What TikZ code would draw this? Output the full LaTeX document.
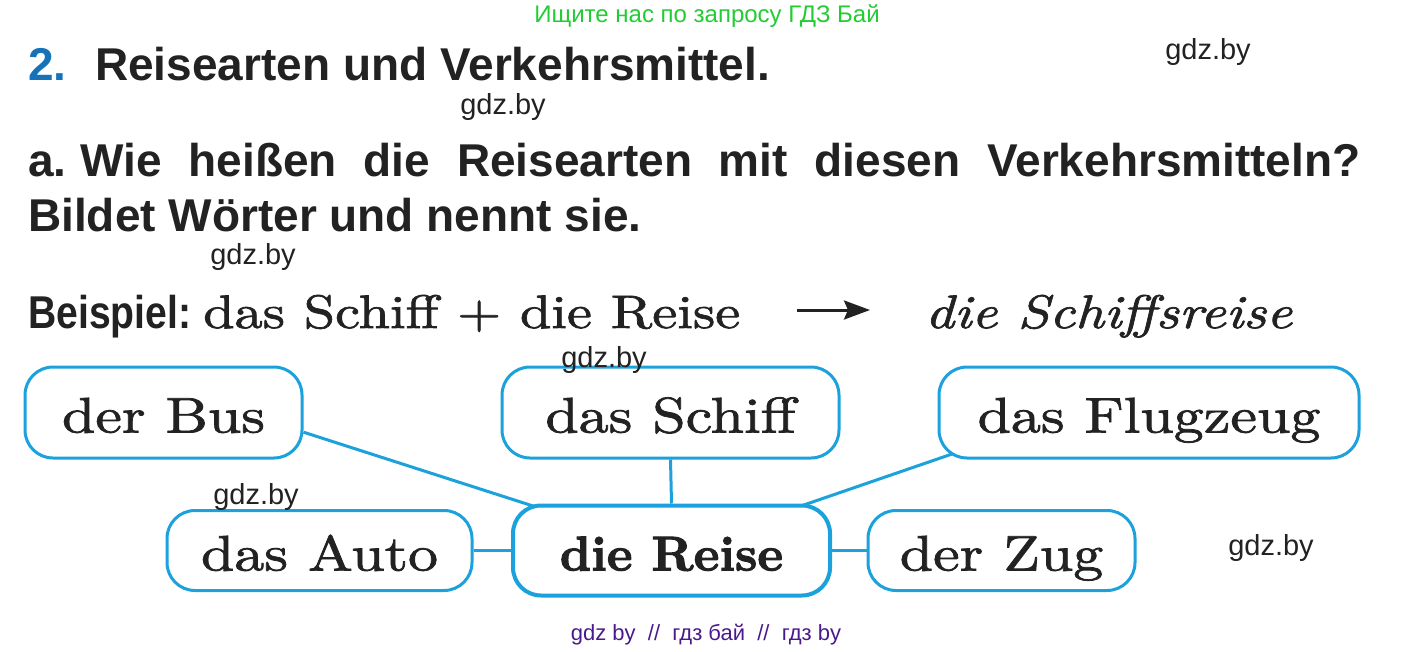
\documentclass[tikz,border=0pt]{standalone}
\usepackage{fontspec}
\usetikzlibrary{arrows.meta,calc,backgrounds}

\newfontfamily\kopffont{Liberation Sans}
\newfontfamily\schmalfont{Liberation Sans}[FakeStretch=0.85]
\newfontfamily\kastenfont{lmroman10-regular.otf}[ItalicFont=lmroman10-italic.otf, FakeStretch=1.2, FakeBold=1.5]
\newfontfamily\fettfont{lmroman10-bold.otf}[FakeBold=2]

\definecolor{kastenblau}{HTML}{1BA1DB}
\definecolor{nummerblau}{HTML}{1673B9}
\definecolor{tinte}{HTML}{222222}
\definecolor{gruen}{HTML}{22CC33}
\definecolor{lila}{HTML}{4A1A8C}

\begin{document}
\begin{tikzpicture}[x=1pt, y=-1pt,
    kasten/.style={draw=kastenblau, line width=3pt, rounded corners=28pt, fill=white,
        inner sep=0pt, text=tinte, text height=40pt, text depth=0pt,
        font=\kastenfont\fontsize{50}{50}\selectfont},
    verbindung/.style={draw=kastenblau, line width=3pt},
    kopf/.style={inner sep=0pt, anchor=base west, text=tinte,
        font=\kopffont\bfseries\fontsize{46}{46}\selectfont},
    wz/.style={inner sep=0pt, text=tinte, font=\kopffont\fontsize{29}{29}\selectfont}]
    \useasboundingbox (0,0) rectangle (1414,651);

    % --- Kopfzeile ---
    \node[inner sep=0pt, anchor=base, text=gruen, font=\kopffont\fontsize{24}{24}\selectfont]
        (hinweis) at (707,22) {Ищите нас по запросу ГДЗ Бай};
    \node[kopf, text=nummerblau] (nummer) at (28,80) {2.};
    \node[kopf] (titel) at (95,80) {Reisearten und Verkehrsmittel.};

    % --- Aufgabe a ---
    \node[kopf] (frage) at (28,176) {a.\hspace{14pt}\makebox[1280pt][s]{Wie heißen die Reisearten mit diesen Verkehrsmitteln?}};
    \node[kopf] (auftrag) at (28,231) {Bildet Wörter und nennt sie.};

    % --- Beispiel ---
    \node[kopf, font=\schmalfont\bfseries\fontsize{46}{46}\selectfont] (beispiel) at (28,328) {Beispiel:};
    \node[inner sep=0pt, anchor=base west, text=tinte, font=\kastenfont\fontsize{47}{47}\selectfont]
        (summe) at (203,328) {das Schiff + die Reise};
    \node[inner sep=0pt, anchor=base west, text=tinte, font=\kastenfont\itshape\fontsize{47}{47}\selectfont]
        (ergebnis) at (925,328) {die Schiffsreise};
    \coordinate (pfeilA) at (797,310);
    \coordinate (pfeilB) at (870,310);
    \draw[-{Stealth[length=26pt,width=19pt,inset=4pt]}, line width=3pt, tinte] (pfeilA) -- (pfeilB);

    % --- Kaesten ---
    \node[kasten, minimum width=277pt, minimum height=91pt] (bus) at (163.5,412.5) {der Bus};
    \node[kasten, minimum width=337pt, minimum height=91pt] (schiff) at (670.5,412.5) {das Schiff};
    \node[kasten, minimum width=420pt, minimum height=91pt] (flug) at (1149,412.5) {das Flugzeug};
    \node[kasten, minimum width=305pt, minimum height=80pt] (auto) at (319.5,550.5) {das Auto};
    \node[kasten, line width=4pt, minimum width=317pt, minimum height=90pt,
        font=\fettfont\fontsize{49}{49}\selectfont] (reise) at (671.5,550.5) {die Reise};
    \node[kasten, minimum width=267pt, minimum height=80pt] (zug) at (1001.5,550.5) {der Zug};

    % Verbindungen hinter den Kaesten
    \begin{pgfonlayer}{background}
        \draw[verbindung] (bus.-8) -- (reise.center);
        \draw[verbindung] (schiff.south) -- (reise.north);
        \draw[verbindung] ($(flug.south west)+(16,-6)$) -- (reise.center);
        \draw[verbindung] (auto.east) -- (reise.west);
        \draw[verbindung] (reise.east) -- (zug.west);
    \end{pgfonlayer}

    % --- Wasserzeichen ---
    \node[wz] (wz1) at (1208,52) {gdz.by};
    \node[wz] (wz2) at (503,107) {gdz.by};
    \node[wz] (wz3) at (253,257) {gdz.by};
    \node[wz] (wz4) at (604,360) {gdz.by};
    \node[wz] (wz5) at (256,497) {gdz.by};
    \node[wz] (wz6) at (1271,548) {gdz.by};
    \node[inner sep=0pt, anchor=base, text=lila, font=\kopffont\fontsize{22}{22}\selectfont]
        (fuss) at (706,640) {gdz by\ \ //\ \ гдз бай\ \ //\ \ гдз by};
\end{tikzpicture}
\end{document}
